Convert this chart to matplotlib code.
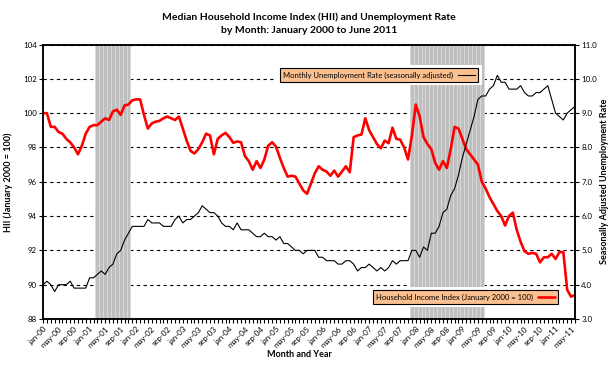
import matplotlib
matplotlib.use("Agg")
import matplotlib.pyplot as plt
from matplotlib.patches import Rectangle
from matplotlib.ticker import FormatStrFormatter, MultipleLocator

plt.rcParams['font.family'] = ['Lato', 'DejaVu Sans']

# 月次データ (2000年1月〜2011年6月, 138か月)
hii = [
    100.0, 100.0, 99.2, 99.2, 98.9, 98.8, 98.5, 98.3, 98.0, 97.6, 98.1, 98.8,
    99.2, 99.3, 99.3, 99.5, 99.7, 99.6, 100.1, 100.2, 99.9, 100.45, 100.5, 100.75,
    100.8, 100.8, 99.9, 99.1, 99.4, 99.5, 99.55, 99.7, 99.8, 99.7, 99.6, 99.8,
    99.1, 98.4, 97.8, 97.65, 97.9, 98.3, 98.8, 98.7, 97.6, 98.5, 98.7, 98.85,
    98.6, 98.27, 98.35, 98.3, 97.5, 97.2, 96.7, 97.2, 96.8, 97.3, 98.1, 98.3,
    98.05, 97.4, 96.8, 96.3, 96.35, 96.3, 95.9, 95.5, 95.3, 95.9, 96.5, 96.9,
    96.7, 96.6, 96.35, 96.65, 96.3, 96.6, 96.9, 96.55, 98.6, 98.7, 98.75, 99.7,
    99.0, 98.6, 98.2, 97.95, 98.4, 98.25, 99.15, 98.5, 98.45, 98.0, 97.3, 98.7,
    100.5, 99.8, 98.6, 98.2, 97.9, 97.1, 96.7, 97.2, 96.8, 97.9, 99.2, 99.1,
    98.5, 97.9, 97.6, 97.3, 97.0, 96.0, 95.6, 95.1, 94.7, 94.3, 94.0, 93.45,
    94.0, 94.2, 93.2, 92.5, 91.95, 91.8, 91.85, 91.8, 91.3, 91.6, 91.6, 91.8,
    91.5, 91.9, 91.9, 89.7, 89.3, 89.4,
]

unemployment = [
    4.0, 4.1, 4.0, 3.8, 4.0, 4.0, 4.0, 4.1, 3.9, 3.9, 3.9, 3.9,
    4.2, 4.2, 4.3, 4.4, 4.3, 4.5, 4.6, 4.9, 5.0, 5.3, 5.5, 5.7,
    5.7, 5.7, 5.7, 5.9, 5.8, 5.8, 5.8, 5.7, 5.7, 5.7, 5.9, 6.0,
    5.8, 5.9, 5.9, 6.0, 6.1, 6.3, 6.2, 6.1, 6.1, 6.0, 5.8, 5.7,
    5.7, 5.6, 5.8, 5.6, 5.6, 5.6, 5.5, 5.4, 5.4, 5.5, 5.4, 5.4,
    5.3, 5.4, 5.2, 5.2, 5.1, 5.0, 5.0, 4.9, 5.0, 5.0, 5.0, 4.8,
    4.8, 4.7, 4.7, 4.7, 4.6, 4.6, 4.7, 4.7, 4.6, 4.4, 4.5, 4.5,
    4.6, 4.5, 4.4, 4.5, 4.4, 4.5, 4.7, 4.6, 4.7, 4.7, 4.7, 5.0,
    5.0, 4.8, 5.1, 5.0, 5.5, 5.5, 5.7, 6.1, 6.2, 6.6, 6.8, 7.2,
    7.7, 8.1, 8.5, 8.9, 9.4, 9.5, 9.5, 9.7, 9.8, 10.1, 9.9, 9.9,
    9.7, 9.7, 9.7, 9.8, 9.6, 9.5, 9.5, 9.6, 9.6, 9.7, 9.8, 9.4,
    9.0, 8.9, 8.8, 9.0, 9.1, 9.2,
]

# 景気後退期 (月インデックス): 2001年3月〜11月, 2007年12月〜2009年6月
recessions = [(14, 22), (95, 113)]

# x軸ラベル (4か月ごと)
tick_labels = [f"{m}-{y:02d}" for y in range(12) for m in ("jan", "may", "sep")][:35]

months = list(range(len(hii)))

fig = plt.figure(figsize=(6.12, 3.66), dpi=100)
ax = fig.add_axes([0.0703, 0.1284, 0.8692, 0.75])
ax2 = ax.twinx()

# 景気後退期の網掛け
for start, end in recessions:
    for m in range(start, end + 1):
        ax.axvspan(m - 0.5, m + 0.5, facecolor='#bfbfbf', edgecolor='#dadada',
                   linewidth=0.6, zorder=1)

ax.plot(months, hii, color='#ff0000', lw=1.9, solid_joinstyle='round',
        solid_capstyle='round', zorder=3)
ax2.plot(months, unemployment, color='black', lw=0.8, zorder=3)

ax.set_xlim(0, len(hii) - 1)
ax.set_ylim(88, 104)
ax2.set_ylim(3, 11)
ax.set_yticks(range(88, 105, 2))
ax2.set_yticks(range(3, 12))
ax2.yaxis.set_major_formatter(FormatStrFormatter('%.1f'))

ax.set_xticks(months[::4])
ax.set_xticklabels(tick_labels, rotation=45, ha='right', rotation_mode='anchor')
ax.xaxis.set_minor_locator(MultipleLocator(1))

ax.set_axisbelow(True)
ax.grid(axis='y', color='black', linestyle=(0, (3, 3)), linewidth=0.8, zorder=0)

for a in (ax, ax2):
    for s in a.spines.values():
        s.set_linewidth(1.1)
        s.set_color('black')
    a.tick_params(axis='both', which='both', direction='out', length=3,
                  width=0.8, labelsize=5.7, pad=1.5)

ax.set_ylabel("HII (January 2000 = 100)", fontsize=6.5, fontweight='bold', labelpad=7)
ax2.set_ylabel("Seasonally Adjusted Unemployment Rate", fontsize=6.5,
               fontweight='bold', labelpad=2)
fig.text(0.49, 0.025, "Month and Year", fontsize=6.5, fontweight='bold', ha='center')
fig.text(0.505, 0.935, "Median Household Income Index (HII) and Unemployment Rate\n"
         "by Month: January 2000 to June 2011", fontsize=7.5, fontweight='bold',
         ha='center', va='center', linespacing=1.5)

black_handle = ax2.lines[0]
red_handle = ax.lines[0]
leg_kw = dict(markerfirst=False, frameon=True, fancybox=False, facecolor='#fac090',
              edgecolor='black', framealpha=1, fontsize=5.5, handlelength=2.2,
              borderpad=0.45, handletextpad=0.6, borderaxespad=0,
              bbox_transform=fig.transFigure, loc='upper left')
leg1 = ax2.legend([black_handle], ["Monthly Unemployment Rate (seasonally adjusted)"],
                  bbox_to_anchor=(280 / 612, 1 - 68 / 366), **leg_kw)
leg1.get_frame().set_linewidth(0.8)
ax2.add_artist(leg1)
leg2 = ax2.legend([red_handle], ["Household Income Index (January 2000 = 100)"],
                  bbox_to_anchor=(373 / 612, 1 - 290 / 366), **leg_kw)
leg2.get_frame().set_linewidth(0.8)

# 凡例の周りの白い余白
fig.canvas.draw()
inv = fig.transFigure.inverted()
for leg in (leg1, leg2):
    bb = leg.get_window_extent().transformed(inv)
    pad_x, pad_y = 4 / 612, 3 / 366
    ax.add_patch(Rectangle((bb.x0 - pad_x, bb.y0 - pad_y), bb.width + 2 * pad_x,
                           bb.height + 2 * pad_y, transform=fig.transFigure,
                           facecolor='white', edgecolor='none', zorder=2))

fig.savefig("out.png", dpi=100)
